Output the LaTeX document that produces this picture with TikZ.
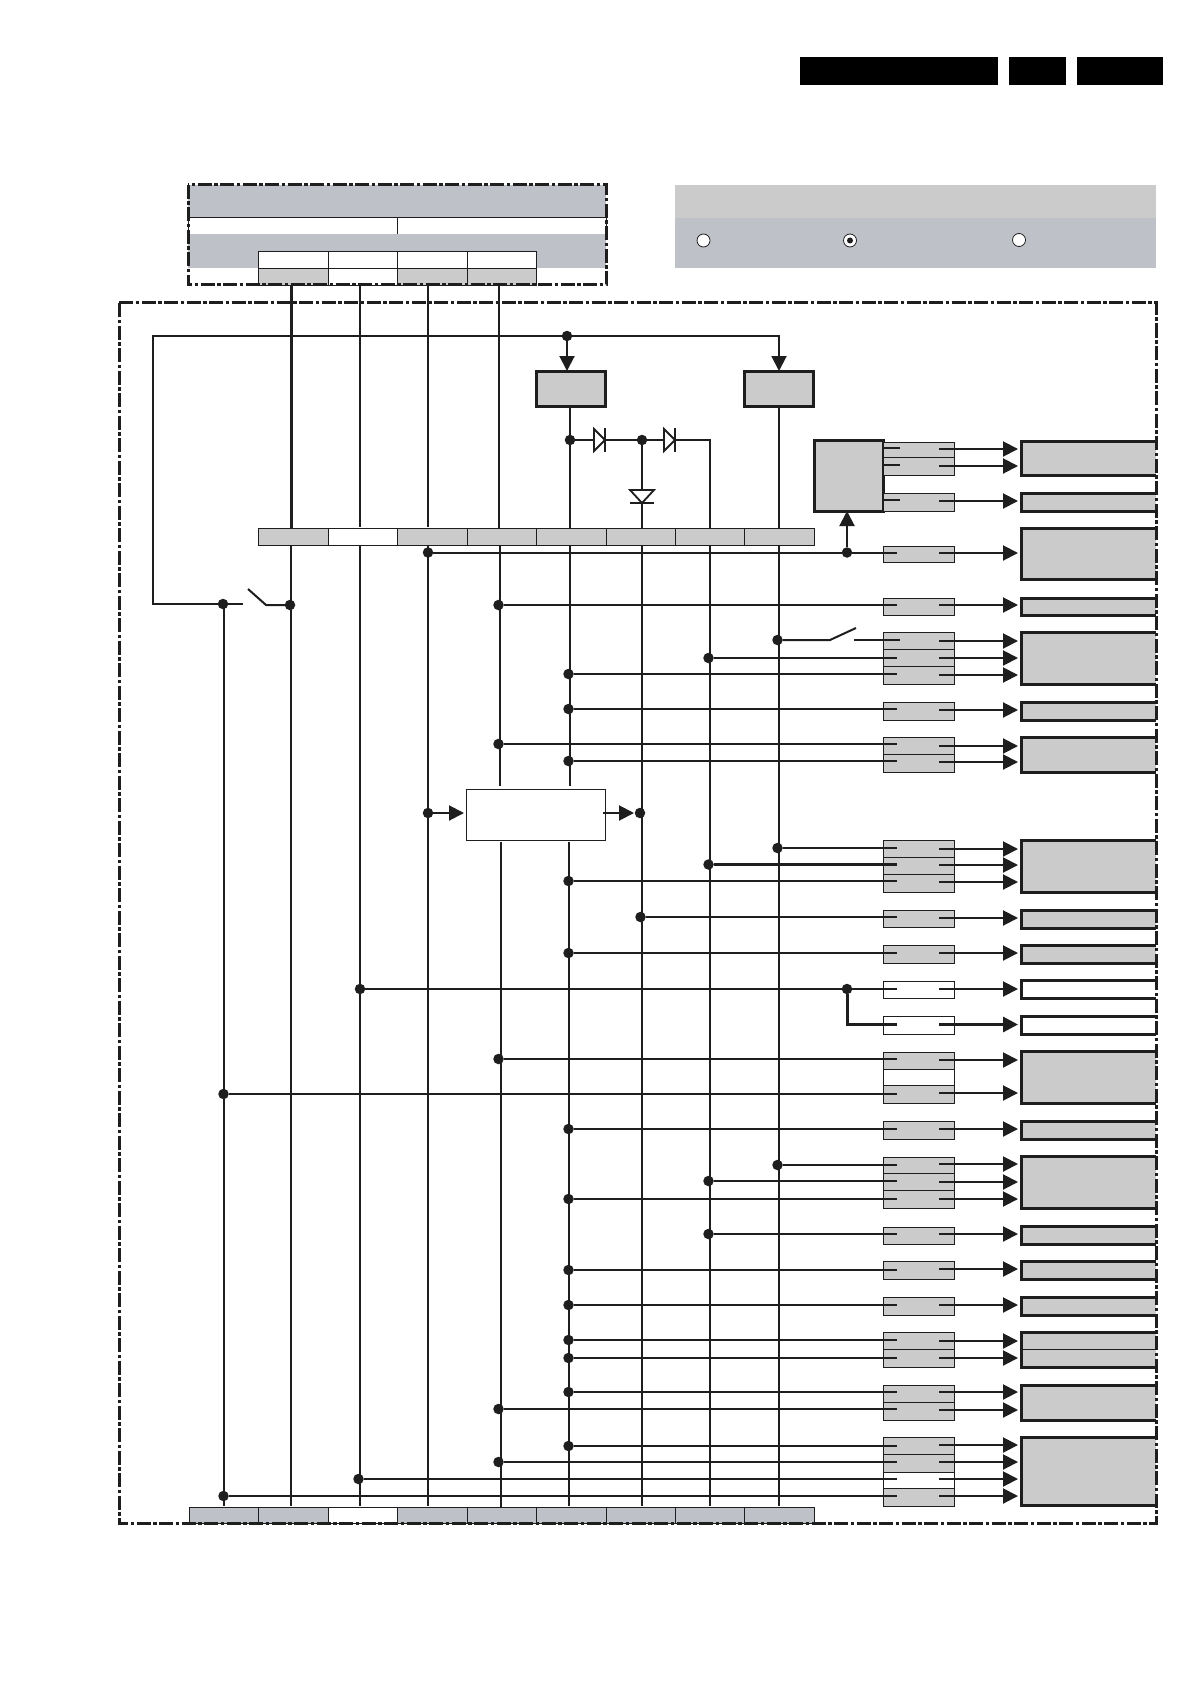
\documentclass[tikz,border=0pt]{standalone}
\usetikzlibrary{arrows.meta}
\definecolor{panelgray}{HTML}{CBCBCB}
\definecolor{bandblue}{HTML}{BEC2C8}
\definecolor{inkblack}{HTML}{1E1E1E}
\tikzset{
  wire/.style={draw=inkblack,line width=2pt},
  heavywire/.style={draw=inkblack,line width=3pt},
  tip/.style={-{Triangle[length=15pt,width=15pt]}},
  jdot/.style={circle,fill=inkblack,inner sep=0pt,outer sep=0pt,minimum size=10.5pt},
  thincell/.style={draw=inkblack,line width=.85pt},
  graycell/.style={thincell,fill=panelgray},
  bluecell/.style={thincell,fill=bandblue},
  whitecell/.style={thincell,fill=white},
  flatband/.style={fill=bandblue},
  flatgray/.style={fill=panelgray},
  heavybox/.style={draw=inkblack,line width=3pt,fill=panelgray},
  outline/.style={draw=inkblack,line width=3pt},
  frame/.style={draw=inkblack,line width=3pt,dash pattern=on 14pt off 2.5pt on 3.5pt off 2.5pt},
  diode/.style={draw=inkblack,line width=1.8pt,fill=white},
}
\newcommand\cell[6]{%
  \pgfmathsetmacro\mycw{#5-#3}\pgfmathsetmacro\mych{#6-#4}%
  \node[#2,minimum width=\mycw pt,minimum height=\mych pt,inner sep=0pt,outer sep=0pt,anchor=north west] (#1) at (#3,#4) {};}
\newcommand\srow[4]{\cell{#1}{#2}{883}{#3}{954}{#4}}
% big output box: open on the right, where the dashed frame runs
\newcommand\bigbox[4]{%
  \cell{#1}{fill=#2}{1021}{#3}{1156}{#4}%
  \draw[outline] (#1.north east) -- (#1.north west) -- (#1.south west) -- (#1.south east);}
% signal: junction on a bus, wire into the small box, arrow out of it
\newcommand\outarrow[2]{%
  \coordinate (#1o) at (939,#2);\coordinate (#1e) at (1018,#2);
  \draw[wire,tip] (#1o) -- (#1e);}
\newcommand\sig[5][wire]{%
  \node[jdot] (#2j) at (#3-1.5,#4) {};
  \coordinate (#2i) at (897,#4);
  \draw[#1] (#2j) -- (#2i);
  \outarrow{#2}{#5}}
\begin{document}
\begin{tikzpicture}[x=1pt,y=-1pt]
\useasboundingbox (0,0) rectangle (1192,1685);
\fill[white] (0,0) rectangle (1192,1685);
% header bars
\cell{hA}{fill=black}{800}{57}{998}{85}
\cell{hB}{fill=black}{1009}{57}{1066}{85}
\cell{hC}{fill=black}{1077}{57}{1163}{85}
% top panel
\cell{pA}{flatband}{188}{185}{606}{217}
\cell{pB1}{whitecell}{188}{217}{397}{234}
\cell{pB2}{whitecell}{397}{217}{606}{234}
\cell{pC}{flatband}{188}{234}{606}{268}
\cell{t1}{whitecell}{258}{251}{328}{268}
\cell{t2}{whitecell}{328}{251}{397}{268}
\cell{t3}{whitecell}{397}{251}{467}{268}
\cell{t4}{whitecell}{467}{251}{536}{268}
\cell{u1}{graycell}{258}{268}{328}{285}
\cell{u2}{whitecell}{328}{268}{397}{285}
\cell{u3}{graycell}{397}{268}{467}{285}
\cell{u4}{graycell}{467}{268}{536}{285}
% legend panel
\cell{lA}{flatgray}{675}{185}{1156}{218}
\cell{lB}{flatband}{675}{218}{1156}{268}
\node[circle,draw=inkblack,line width=.8pt,fill=white,minimum size=13pt,inner sep=0pt] (r1) at (703.5,240.5) {};
\node[circle,draw=inkblack,line width=.8pt,fill=white,minimum size=13pt,inner sep=0pt] (r2) at (850,240.5) {};
\node[circle,fill=inkblack,minimum size=6pt,inner sep=0pt] (r2d) at (850,240.5) {};
\node[circle,draw=inkblack,line width=.8pt,fill=white,minimum size=13pt,inner sep=0pt] (r3) at (1019,240) {};
% upper bar
\cell{b1}{graycell}{258}{528}{328}{545}
\cell{b2}{whitecell}{328}{528}{397}{545}
\cell{b3}{graycell}{397}{528}{467}{545}
\cell{b4}{graycell}{467}{528}{536}{545}
\cell{b5}{graycell}{536}{528}{606}{545}
\cell{b6}{graycell}{606}{528}{675}{545}
\cell{b7}{graycell}{675}{528}{744}{545}
\cell{b8}{graycell}{744}{528}{814}{545}
% lower bar
\cell{c1}{bluecell}{189}{1507}{258}{1523}
\cell{c2}{bluecell}{258}{1507}{328}{1523}
\cell{c3}{whitecell}{328}{1507}{397}{1523}
\cell{c4}{bluecell}{397}{1507}{467}{1523}
\cell{c5}{bluecell}{467}{1507}{536}{1523}
\cell{c6}{bluecell}{536}{1507}{606}{1523}
\cell{c7}{bluecell}{606}{1507}{675}{1523}
\cell{c8}{bluecell}{675}{1507}{744}{1523}
\cell{c9}{bluecell}{744}{1507}{814}{1523}
% regulators and blocks
\cell{regA}{heavybox}{536}{371}{605}{406}
\cell{regB}{heavybox}{744}{371}{813}{406}
\cell{mcu}{heavybox}{814}{440}{883}{511}
\cell{mid}{whitecell}{466}{789}{605}{840}
% small connector cells
\srow{s1a}{graycell}{442}{457}\srow{s1b}{graycell}{457}{475}
\srow{s2}{graycell}{493}{511}
\srow{s3}{graycell}{546}{562}
\srow{s4}{graycell}{598}{615}
\srow{s5a}{graycell}{632}{649}\srow{s5b}{graycell}{649}{666}\srow{s5c}{graycell}{666}{684}
\srow{s6}{graycell}{702}{720}
\srow{s7a}{graycell}{737}{754}\srow{s7b}{graycell}{754}{772}
\srow{s8a}{graycell}{840}{857}\srow{s8b}{graycell}{857}{874}\srow{s8c}{graycell}{874}{892}
\srow{s9}{graycell}{910}{927}
\srow{s10}{graycell}{945}{963}
\srow{s11}{whitecell}{981}{998}
\srow{s12}{whitecell}{1016}{1034}
\srow{s13a}{graycell}{1052}{1069}\srow{s13b}{whitecell}{1069}{1085}\srow{s13c}{graycell}{1085}{1103}
\srow{s14}{graycell}{1121}{1139}
\srow{s15a}{graycell}{1157}{1173}\srow{s15b}{graycell}{1173}{1190}\srow{s15c}{graycell}{1190}{1208}
\srow{s16}{graycell}{1227}{1244}
\srow{s17}{graycell}{1261}{1279}
\srow{s18}{graycell}{1297}{1315}
\srow{s19a}{graycell}{1332}{1349}\srow{s19b}{graycell}{1349}{1367}
\srow{s20a}{graycell}{1385}{1402}\srow{s20b}{graycell}{1402}{1420}
\srow{s21a}{graycell}{1437}{1454}\srow{s21b}{graycell}{1454}{1472}\srow{s21c}{whitecell}{1472}{1488}\srow{s21d}{graycell}{1488}{1506}
% big output boxes
\bigbox{o1}{panelgray}{441}{475}
\bigbox{o2}{panelgray}{493}{511}
\bigbox{o3}{panelgray}{528}{579}
\bigbox{o4}{panelgray}{598}{615}
\bigbox{o5}{panelgray}{632}{684}
\bigbox{o6}{panelgray}{702}{720}
\bigbox{o7}{panelgray}{737}{772}
\bigbox{o8}{panelgray}{840}{892}
\bigbox{o9}{panelgray}{910}{928}
\bigbox{o10}{panelgray}{945}{963}
\bigbox{o11}{white}{980}{998}
\bigbox{o12}{white}{1016}{1034}
\bigbox{o13}{panelgray}{1051}{1103}
\bigbox{o14}{panelgray}{1121}{1139}
\bigbox{o15}{panelgray}{1156}{1208}
\bigbox{o16}{panelgray}{1226}{1244}
\bigbox{o17}{panelgray}{1261}{1279}
\bigbox{o18}{panelgray}{1297}{1315}
\bigbox{o19}{panelgray}{1332}{1367}
\bigbox{o20}{panelgray}{1385}{1420}
\bigbox{o21}{panelgray}{1437}{1505}
\draw[thincell] (o19.west) -- (o19.east);
% buses from the top panel to the upper bar
\coordinate (n1) at (291,285);\coordinate (m1) at (291,528);
\coordinate (n2) at (360,285);\coordinate (m2) at (360,527);
\coordinate (n3) at (428,285);\coordinate (m3) at (428,527);
\coordinate (n4) at (499,285);\coordinate (m4) at (499,528);
\draw[heavywire] (n1) -- (m1);
\draw[wire] (n2) -- (m2);
\draw[wire] (n3) -- (m3);
\draw[wire] (n4) -- (m4);
% buses below the upper bar
\coordinate (d1) at (291,545);\coordinate (e1) at (291,1506);
\coordinate (d2) at (360,545);\coordinate (e2) at (360,1506);
\coordinate (d3) at (428,545);\coordinate (e3) at (428,1506);
\coordinate (d4) at (500,545);\coordinate (f4) at (500,786);\coordinate (g4) at (501,842);\coordinate (e4) at (501,1507);
\coordinate (d5) at (570,545);\coordinate (f5) at (570,786);\coordinate (g5) at (569,842);\coordinate (e5) at (569,1506);
\coordinate (d6) at (642,545);\coordinate (e6) at (642,1506);
\coordinate (d7) at (710,545);\coordinate (e7) at (710,1506);
\coordinate (d8) at (779,545);\coordinate (e8) at (779,1506);
\foreach \k in {1,2,3,6,7,8} {\draw[wire] (d\k) -- (e\k);}
\draw[wire] (d4) -- (f4);\draw[wire] (g4) -- (e4);
\draw[wire] (d5) -- (f5);\draw[wire] (g5) -- (e5);
% supply line, loop and switch
\node[jdot] (jtop) at (567,336) {};
\coordinate (lc) at (153,336);\coordinate (ld) at (153,604);
\node[jdot] (jl) at (223,604) {};
\coordinate (sw0) at (243,604);\coordinate (sw1) at (248,589);\coordinate (sw2) at (266,605);
\node[jdot] (jr) at (290,605) {};
\coordinate (rb) at (779,336);
\coordinate (jla) at (224,604);
\coordinate (jb) at (224,1506);
\draw[wire] (jtop) -- (lc) -- (ld) -- (jl);
\draw[wire] (jl) -- (sw0);
\draw[wire] (sw1) -- (sw2) -- (jr);
\draw[wire] (jla) -- (jb);
\draw[wire,tip] (jtop) -- (regA.north -| jtop);
\draw[wire,tip] (jtop) -- (rb) -- (regB.north -| rb);
% regulator outputs and diodes
\coordinate (ra) at (570,406);\coordinate (rm) at (570,528);
\coordinate (rba) at (779,406);\coordinate (rbm) at (779,528);
\draw[wire] (ra) -- (rm);
\draw[wire] (rba) -- (rbm);
\node[jdot] (ja) at (570,440) {};
\node[jdot] (jc) at (642,440) {};
\coordinate (dr) at (710,440);\coordinate (drm) at (710,528);
\coordinate (vm) at (642,528);
\draw[wire] (ja) -- (jc) -- (dr) -- (drm);
\draw[wire] (jc) -- (vm);
\draw[diode] (594,429) -- (605,440) -- (594,451) -- cycle;
\draw[diode] (605,428) -- (605,452);
\draw[diode] (664,429) -- (675,440) -- (664,451) -- cycle;
\draw[diode] (675,428) -- (675,452);
\draw[diode] (630,490) -- (642,503) -- (654,490) -- cycle;
\draw[diode] (630,503) -- (654,503);
% block in the middle
\node[jdot] (jmL) at (428,813) {};
\node[jdot] (jmR) at (640,813) {};
\coordinate (marL) at (464,813);
\coordinate (mout) at (603,813);\coordinate (marR) at (634,813);
\draw[wire,tip] (jmL) -- (marL);
\draw[wire,tip] (mout) -- (marR);
% row from bus 3 with branch up to the controller
\node[jdot] (jw) at (428,552.5) {};
\node[jdot] (ju) at (847,552.5) {};
\coordinate (s3i) at (897,552.5);
\draw[wire] (jw) -- (ju) -- (s3i);
\outarrow{s3}{553}
\draw[wire,tip] (ju) -- (mcu.south -| ju);
% controller outputs
\coordinate (m1a) at (884,448);\coordinate (m1ae) at (900,448);
\coordinate (m1b) at (884,465);\coordinate (m1be) at (900,465);
\coordinate (m2a) at (884,500);\coordinate (m2ae) at (900,500);
\draw[wire] (m1a) -- (m1ae);\draw[wire] (m1b) -- (m1be);\draw[wire] (m2a) -- (m2ae);
\outarrow{q1}{449}\outarrow{q2}{466}\outarrow{q3}{501}
% signal rows
\sig{g4}{500}{605}{605}
% switched row
\node[jdot] (g5aj) at (777.5,640) {};
\coordinate (swa) at (830,640);\coordinate (swb) at (856,628);
\coordinate (swc) at (854,640);\coordinate (g5ai) at (900,640);
\draw[wire] (g5aj) -- (swa) -- (swb);
\draw[wire] (swc) -- (g5ai);
\outarrow{g5a}{641}
\sig{g5b}{710}{658}{658}
\sig{g5c}{570}{674}{675}
\sig{g6}{570}{709}{710}
\sig{g7a}{500}{744}{746}
\sig{g7b}{570}{761}{762}
\sig{g8a}{779}{848}{849}
\sig[heavywire]{g8b}{710}{864.5}{865}
\sig{g8c}{570}{881}{882}
\sig{g9}{642}{917}{918}
\sig{g10}{570}{953}{953}
% rows 11 and 12 with branch
\node[jdot] (g11j) at (360,989) {};
\node[jdot] (g11k) at (847,989) {};
\coordinate (g11i) at (897,989);
\coordinate (g12c) at (847,1024.5);\coordinate (g12i) at (897,1024.5);
\coordinate (g12o) at (939,1024.5);\coordinate (g12e) at (1018,1024.5);
\draw[wire] (g11j) -- (g11k) -- (g11i);
\draw[heavywire] (g11k) -- (g12c) -- (g12i);
\outarrow{g11}{989}
\draw[heavywire,tip] (g12o) -- (g12e);
\sig{g13a}{500}{1059}{1060}
\sig{g13b}{225}{1094}{1093}
\sig{g14}{570}{1129}{1129}
\sig{g15a}{779}{1165}{1164}
\sig{g15b}{710}{1181}{1182}
\sig{g15c}{570}{1199}{1199}
\sig{g16}{710}{1234}{1234}
\sig{g17}{570}{1270}{1269}
\sig{g18}{570}{1305}{1305}
\sig{g19a}{570}{1340}{1341}
\sig{g19b}{570}{1358}{1358}
\sig{g20a}{570}{1392}{1392}
\sig{g20b}{500}{1409}{1410}
\sig{g21a}{570}{1446}{1445}
\sig{g21b}{500}{1462}{1462}
\sig{g21c}{360}{1479}{1479}
\sig{g21d}{225}{1496}{1496}
% dashed frames
\draw[frame] (188,185) rectangle (606,285);
\draw[frame] (119,303) rectangle (1156,1523);
\end{tikzpicture}
\end{document}
